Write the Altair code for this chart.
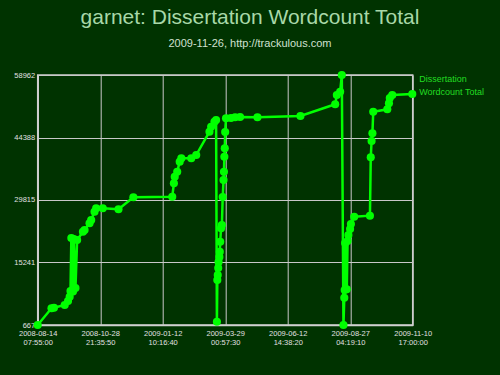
import altair as alt
import pandas as pd

# ---- data ----
dates = [
    "2008-08-14T07:55:00", "2008-08-31T00:00:00", "2008-09-03T00:00:00", "2008-09-16T00:00:00",
    "2008-09-20T00:00:00", "2008-09-22T00:00:00", "2008-09-23T00:00:00", "2008-09-24T00:00:00",
    "2008-09-26T00:00:00", "2008-09-27T00:00:00", "2008-09-29T00:00:00", "2008-10-01T00:00:00",
    "2008-10-08T00:00:00", "2008-10-10T00:00:00", "2008-10-16T00:00:00", "2008-10-18T00:00:00",
    "2008-10-22T00:00:00", "2008-10-24T00:00:00", "2008-11-01T00:00:00", "2008-11-20T00:00:00",
    "2008-12-08T00:00:00", "2009-01-24T00:00:00", "2009-01-26T00:00:00", "2009-01-27T00:00:00",
    "2009-01-30T00:00:00", "2009-02-02T00:00:00", "2009-02-04T00:00:00", "2009-02-16T00:00:00",
    "2009-02-22T00:00:00", "2009-03-10T00:00:00", "2009-03-12T00:00:00", "2009-03-16T00:00:00",
    "2009-03-18T00:00:00", "2009-03-19T00:00:00", "2009-03-19T12:00:00", "2009-03-20T00:00:00",
    "2009-03-20T14:00:00", "2009-03-21T00:00:00", "2009-03-22T00:00:00", "2009-03-22T12:00:00",
    "2009-03-23T00:00:00", "2009-03-24T00:00:00", "2009-03-25T00:00:00", "2009-03-26T00:00:00",
    "2009-03-27T00:00:00", "2009-03-27T12:00:00", "2009-03-28T00:00:00", "2009-03-28T12:00:00",
    "2009-03-29T00:00:00", "2009-03-30T00:00:00", "2009-04-05T00:00:00", "2009-04-10T00:00:00",
    "2009-04-16T00:00:00", "2009-05-07T00:00:00", "2009-06-28T00:00:00", "2009-08-09T00:00:00",
    "2009-08-11T00:00:00", "2009-08-15T00:00:00", "2009-08-17T00:00:00", "2009-08-19T00:00:00",
    "2009-08-20T00:00:00", "2009-08-20T12:00:00", "2009-08-21T00:00:00", "2009-08-23T00:00:00",
    "2009-08-24T00:00:00", "2009-08-25T00:00:00", "2009-08-27T00:00:00", "2009-08-28T00:00:00",
    "2009-09-01T00:00:00", "2009-09-20T00:00:00", "2009-09-21T00:00:00", "2009-09-22T00:00:00",
    "2009-09-23T00:00:00", "2009-09-24T00:00:00", "2009-10-11T00:00:00", "2009-10-13T00:00:00",
    "2009-10-14T00:00:00", "2009-10-17T00:00:00", "2009-11-10T05:00:00",
]
wordcounts = [
    667, 4561, 4701, 5331,
    6263, 7266, 8595, 20954,
    8478, 20720, 9294, 20487,
    22423, 22819, 24381, 25151,
    27086, 27880, 27880, 27646,
    30444, 30584, 33709, 35248,
    36414, 38745, 39538, 39538,
    40308, 45740, 46906, 48073,
    48469, 1436, 11160, 12326,
    13958, 15357, 16523, 17759,
    20091, 23216, 23985, 30514,
    34478, 36414, 39911, 41870,
    45671, 48865, 48936, 49099,
    49168, 49099, 49402, 52130,
    54298, 55068, 58962, 667,
    7033, 8828, 19788, 8991,
    20254, 21653, 23052, 24218,
    25921, 26154, 39771, 43572,
    45367, 50404, 50964, 52363,
    53599, 54298, 54532,
]
y_ticks = [667, 15241, 29815, 44388, 58962]
x_ticks = [
    (2008, 8, 14, 7, 55, 0), (2008, 10, 28, 21, 35, 50), (2009, 1, 12, 10, 16, 40),
    (2009, 3, 29, 0, 57, 30), (2009, 6, 12, 14, 38, 20), (2009, 8, 27, 4, 19, 10),
    (2009, 11, 10, 17, 0, 0),
]
series_label = "Dissertation\nWordcount Total"
title_text = "garnet: Dissertation Wordcount Total"
subtitle_text = "2009-11-26, http://trackulous.com"

df = pd.DataFrame({"date": dates, "count": wordcounts})
legend_df = pd.DataFrame({"label": [series_label]})

def dt(t):
    return alt.DateTime(year=t[0], month=t[1], date=t[2], hours=t[3], minutes=t[4], seconds=t[5])

x_enc = alt.X(
    "date:T",
    scale=alt.Scale(domain=[dt(x_ticks[0]), dt(x_ticks[-1])], nice=False),
    axis=alt.Axis(
        values=[dt(t) for t in x_ticks],
        labelExpr="[timeFormat(datum.value, '%Y-%m-%d'), timeFormat(datum.value, '%H:%M:%S')]",
        title=None,
        ticks=False,
        labelPadding=4,
        labelLineHeight=9.5,
        labelFontSize=7.5,
        labelColor="#e0e0e0",
        labelFont="Liberation Sans",
        labelOverlap=False,
        labelFlush=False,
        grid=True,
        gridColor="#c8c8c8",
        gridWidth=1,
        gridOpacity=1,
        domainColor="#d0d0d0",
        domainWidth=1.5,
    ),
)
y_enc = alt.Y(
    "count:Q",
    scale=alt.Scale(domain=[y_ticks[0], y_ticks[-1]], nice=False, zero=False),
    axis=alt.Axis(
        values=y_ticks,
        format="d",
        title=None,
        ticks=False,
        labelPadding=3,
        labelFontSize=7.5,
        labelColor="#e0e0e0",
        labelFont="Liberation Sans",
        labelOverlap=False,
        labelFlush=False,
        grid=True,
        gridColor="#c8c8c8",
        gridWidth=1,
        gridOpacity=1,
        domainColor="#d0d0d0",
        domainWidth=1.5,
    ),
)

line = alt.Chart(df).mark_line(color="#00ff00", strokeWidth=2.5, clip=False).encode(x=x_enc, y=y_enc)
points = alt.Chart(df).mark_circle(color="#00ff00", size=66, opacity=1, clip=False).encode(
    x=alt.X("date:T"), y=alt.Y("count:Q")
)
legend = alt.Chart(legend_df).mark_text(
    align="left", baseline="alphabetic", lineBreak="\n", lineHeight=13.7,
    fontSize=9, font="Liberation Sans", color="#22dd22",
).encode(text="label:N", x=alt.value(381.5), y=alt.value(6.5))

chart = alt.layer(line, points, legend).properties(
    width=375,
    height=250,
    background="#003300",
    padding={"left": 37.7, "top": 75, "right": 87.3, "bottom": 50},
    autosize=alt.AutoSizeParams(type="none"),
    title=alt.TitleParams(
        text=title_text,
        subtitle=subtitle_text,
        anchor="middle",
        frame="group",
        dx=24.8,
        fontSize=21,
        font="Liberation Sans",
        fontWeight="normal",
        color="#a8d8a8",
        subtitleFontSize=11,
        subtitleFont="Liberation Sans",
        subtitleColor="#d0e0d0",
        subtitlePadding=10,
        offset=21,
    ),
).configure_view(stroke="#d0d0d0", strokeWidth=1.5)

chart.save("out.html", embed_options={"renderer": "svg", "actions": False})
